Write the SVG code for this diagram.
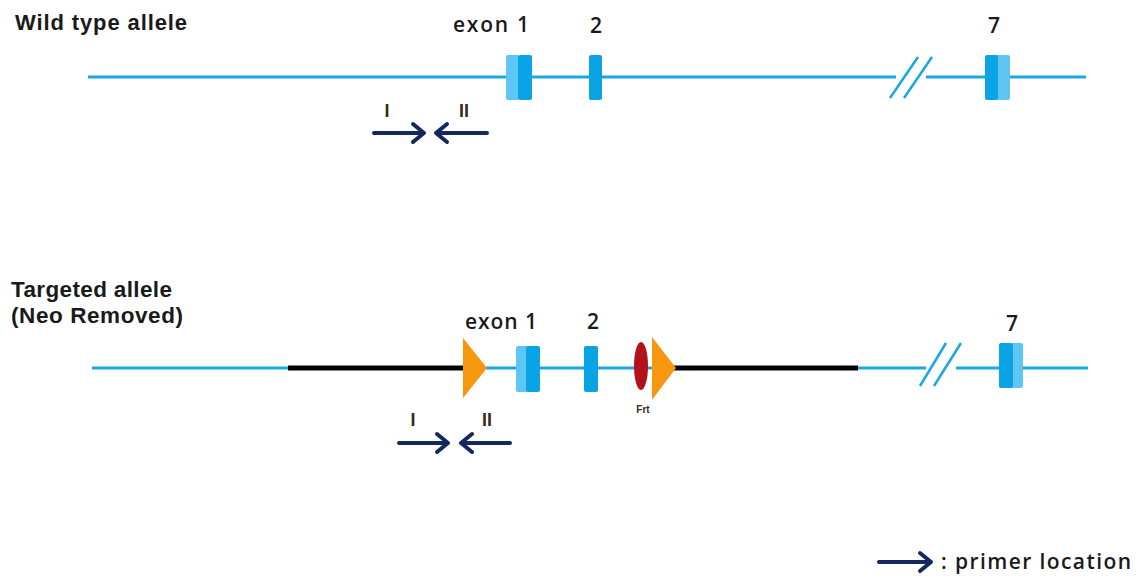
<svg xmlns="http://www.w3.org/2000/svg" width="1139" height="579" viewBox="0 0 1139 579">
<style>
.title{font-family:"Liberation Sans",Arial,sans-serif;font-weight:bold;fill:#1a1a1a}
.lbl{font-family:"Open Sans","Noto Sans",sans-serif;font-weight:600;fill:#1a1a1a}
.prm{font-family:"Liberation Sans",Arial,sans-serif;font-weight:bold;fill:#3a2a18;font-size:18px;text-anchor:middle}
.dna{stroke:#1aa7e4;stroke-width:3;fill:none}
.neo{stroke:#000;stroke-width:5;fill:none}
.brk{stroke:#1aa7e4;stroke-width:2.5;fill:none}
.exL{fill:#5ec6f5}
.exD{fill:#0aa3e6}
.arr{stroke:#14285e;stroke-width:4;fill:none;stroke-linecap:round;stroke-linejoin:round}
.lox{fill:#f7970f}
</style>
<rect width="1139" height="579" fill="#fff"/>
<g id="labels">
<text class="title" x="15" y="30" font-size="22" textLength="172">Wild type allele</text>
<text class="title" x="11" y="297" font-size="22.5" textLength="161">Targeted allele</text>
<text class="title" x="11" y="323" font-size="22.5" textLength="172">(Neo Removed)</text>
</g>
<g id="connectors">
<line class="dna" x1="88" y1="77" x2="896" y2="77"/>
<line class="dna" x1="926" y1="77" x2="1086" y2="77"/>
<line class="dna" x1="92" y1="368" x2="926" y2="368"/>
<line class="dna" x1="956" y1="368" x2="1088" y2="368"/>
<line class="neo" x1="288" y1="368" x2="464" y2="368"/>
<line class="neo" x1="674" y1="368" x2="858" y2="368"/>
</g>
<g id="break-top">
<line class="brk" x1="890" y1="98" x2="918" y2="57"/>
<line class="brk" x1="904" y1="98" x2="932" y2="57"/>
</g>
<g id="break-bottom">
<line class="brk" x1="920" y1="386" x2="946" y2="343"/>
<line class="brk" x1="934" y1="386" x2="961" y2="343"/>
</g>
<g id="wt-exon1">
<text class="lbl" x="453" y="32" font-size="21" textLength="76">exon 1</text>
<rect class="exL" x="506" y="55" width="13" height="45" rx="2"/>
<rect class="exD" x="518" y="55" width="14" height="45" rx="2"/>
</g>
<g id="wt-exon2">
<text class="lbl" x="596" y="33" font-size="21" text-anchor="middle">2</text>
<rect class="exD" x="589" y="55" width="13" height="45" rx="2"/>
</g>
<g id="wt-exon7">
<text class="lbl" x="994" y="33" font-size="21" text-anchor="middle">7</text>
<rect class="exL" x="996" y="55" width="14" height="45" rx="2"/>
<rect class="exD" x="985" y="55" width="13" height="45" rx="2"/>
</g>
<g id="wt-primers">
<text class="prm" x="387" y="117">I</text>
<text class="prm" x="464" y="117">II</text>
<path class="arr" d="M374 133H424M413 124L424 133L413 142"/>
<path class="arr" d="M487 133H436M447 124L436 133L447 142"/>
</g>
<g id="tg-loxp1">
<polygon class="lox" points="463,338 487,368 463,398"/>
</g>
<g id="tg-exon1">
<text class="lbl" x="465" y="329" font-size="21" textLength="72">exon 1</text>
<rect class="exL" x="516" y="346" width="12" height="46" rx="2"/>
<rect class="exD" x="526" y="346" width="14" height="46" rx="2"/>
</g>
<g id="tg-exon2">
<text class="lbl" x="593" y="329" font-size="21" text-anchor="middle">2</text>
<rect class="exD" x="584" y="346" width="14" height="46" rx="2"/>
</g>
<g id="tg-frt">
<ellipse cx="641" cy="366" rx="7" ry="24" fill="#b3121b"/>
<text x="643" y="413" font-family="Liberation Sans,Arial,sans-serif" font-weight="bold" font-size="10" fill="#3a2a18" text-anchor="middle">Frt</text>
</g>
<g id="tg-loxp2">
<polygon class="lox" points="652,337 676,368 652,400"/>
</g>
<g id="tg-exon7">
<text class="lbl" x="1012" y="331" font-size="21" text-anchor="middle">7</text>
<rect class="exL" x="1010" y="343" width="13" height="45" rx="2"/>
<rect class="exD" x="999" y="343" width="14" height="45" rx="2"/>
</g>
<g id="tg-primers">
<text class="prm" x="413" y="426">I</text>
<text class="prm" x="487" y="426">II</text>
<path class="arr" d="M399 443H448M437 434L448 443L437 452"/>
<path class="arr" d="M510 443H461M472 434L461 443L472 452"/>
</g>
<g id="legend">
<path class="arr" d="M879 562H931M920 553L931 562L920 571"/>
<text class="lbl" x="941" y="569" font-size="21" textLength="190">: primer location</text>
</g>
</svg>
